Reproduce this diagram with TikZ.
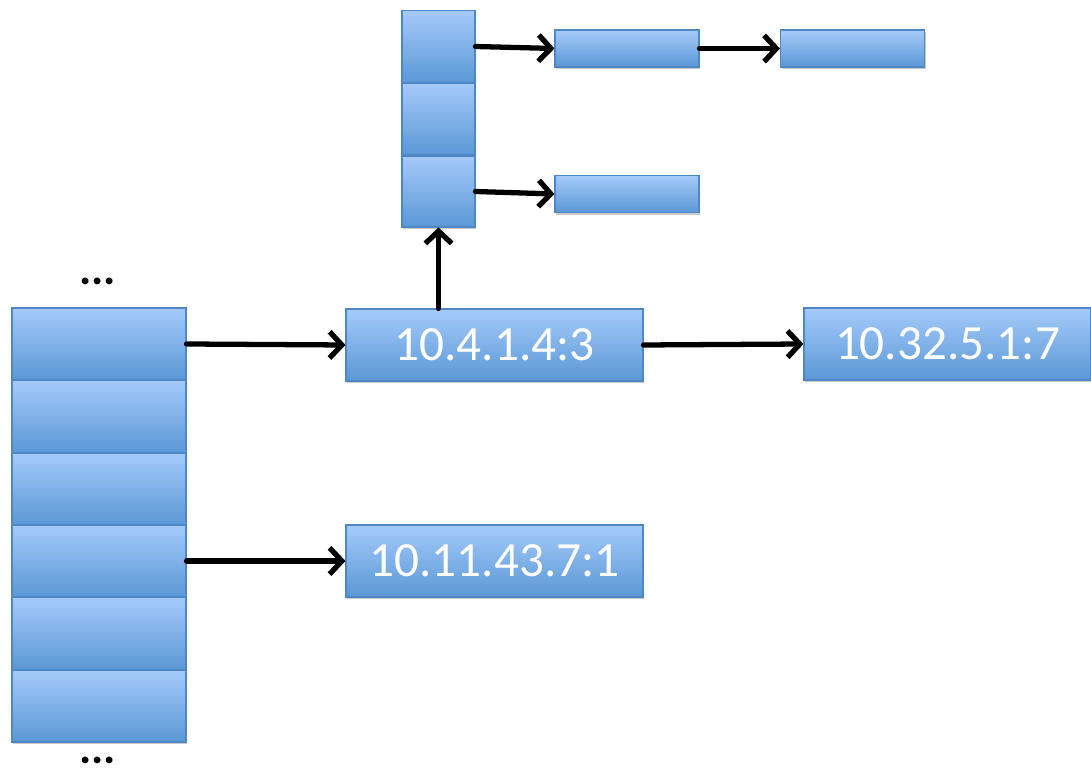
\documentclass[tikz,border=0pt]{standalone}
\usepackage{fontspec}
\setmainfont{Carlito}
\usepackage{tikz}
\usetikzlibrary{arrows.meta,shadows}

\definecolor{celltop}{HTML}{A5CAFA}
\definecolor{cellbot}{HTML}{5A98D6}
\definecolor{celledge}{HTML}{4F86C6}

\begin{document}
\begin{tikzpicture}[
    cell/.style={rectangle, draw=celledge, line width=0.6pt, top color=celltop, bottom color=cellbot,
      inner sep=0pt, text=white, font=\fontsize{28}{33}\selectfont,
      drop shadow={shadow xshift=0.6pt, shadow yshift=-1.4pt, opacity=0.35, fill=black!60}},
    slot/.style={cell, minimum width=3.48cm, minimum height=1.44cm},
    entry/.style={cell, minimum width=5.94cm, minimum height=1.44cm},
    bucket/.style={cell, minimum width=1.46cm, minimum height=1.44cm},
    chunk/.style={cell, minimum width=2.88cm, minimum height=0.74cm},
    link/.style={line width=3pt, line cap=round, line join=round, -{Straight Barb[length=7pt, width=15pt]}},
    more/.style={inner sep=0pt, font=\fontsize{26}{28}\selectfont\bfseries}
  ]
    \useasboundingbox (0,0) rectangle (21.82,-15.6);
    % hash table column
    \node[more] (dtop) at (1.95,-5.62) {...};
    \node[slot] (l1) at (1.98,-6.88) {};
    \node[slot] (l2) at (1.98,-8.33) {};
    \node[slot] (l3) at (1.98,-9.78) {};
    \node[slot] (l4) at (1.98,-11.22) {};
    \node[slot] (l5) at (1.98,-12.67) {};
    \node[slot] (l6) at (1.98,-14.12) {};
    \node[more] (dbot) at (1.95,-15.2) {...};
    % chained entries
    \node[entry] (ea) at (9.89,-6.9) {10.4.1.4:3};
    \node[entry, minimum width=5.74cm] (eb) at (18.95,-6.88) {10.32.5.1:7};
    \node[entry] (ec) at (9.89,-11.22) {10.11.43.7:1};
    % per-entry buckets
    \node[bucket] (t1) at (8.77,-0.93) {};
    \node[bucket] (t2) at (8.77,-2.38) {};
    \node[bucket, minimum height=1.42cm] (t3) at (8.77,-3.83) {};
    \node[chunk] (s1) at (12.54,-0.97) {};
    \node[chunk] (s2) at (17.05,-0.97) {};
    \node[chunk] (s3) at (12.54,-3.88) {};
    % pointers
    \draw[link] (l1.east) -- (ea.west);
    \draw[link] (l4.east) -- (ec.west);
    \draw[link] (ea.east) -- (eb.west);
    \draw[link] (ea.north -| t3.south) -- (t3.south);
    \draw[link] (t1.east) -- (s1.west);
    \draw[link] (s1.east) -- (s2.west);
    \draw[link] (t3.east) -- (s3.west);
\end{tikzpicture}
\end{document}
